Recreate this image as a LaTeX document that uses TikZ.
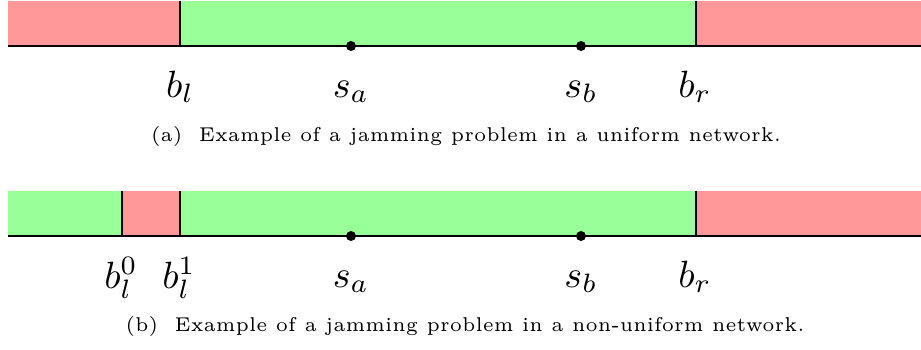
\documentclass[tikz,border=0pt]{standalone}
\usepackage{graphicx}
\newcommand{\biglab}[1]{\scalebox{3.8}{$#1$}}
\newcommand{\captxt}[1]{\scalebox{3.6}[4.0]{\tiny #1}}
\begin{document}
\begin{tikzpicture}[x=1pt,y=-1pt,
  redz/.style={fill=red!40},
  greenz/.style={fill=green!40},
  axis/.style={line width=1.6pt},
  wall/.style={line width=1.4pt},
  dot/.style={circle,fill=black,inner sep=0pt,minimum size=10pt},
  lab/.style={anchor=base,inner sep=0pt},
  captext/.style={anchor=base,inner sep=0pt}]
\useasboundingbox (0,0) rectangle (921,349);
% top
\fill[redz] (8,1) rectangle (180,46);
\fill[greenz] (180,1) rectangle (696,46);
\fill[redz] (696,1) rectangle (921,46);
\coordinate (tl) at (8,46);
\coordinate (tr) at (921,46);
\draw[axis] (tl) -- (tr);
\coordinate (bl1) at (180,1); \coordinate (bl2) at (180,46);
\coordinate (br1) at (696,1); \coordinate (br2) at (696,46);
\draw[wall] (bl1) -- (bl2);
\draw[wall] (br1) -- (br2);
\node[dot] (sa) at (351,46) {};
\node[dot] (sb) at (581,46) {};
\node[lab] (lbl) at (180,97) {\biglab{b_l}};
\node[lab] (lsa) at (351,97) {\biglab{s_a}};
\node[lab] (lsb) at (581,97) {\biglab{s_b}};
\node[lab] (lbr) at (695,97) {\biglab{b_r}};
\node[captext] (capa) at (466,141) {\captxt{(a)\hspace{0.9em}Example of a jamming problem in a uniform network.}};
% bottom
\fill[greenz] (8,191) rectangle (122,236);
\fill[redz] (122,191) rectangle (180,236);
\fill[greenz] (180,191) rectangle (696,236);
\fill[redz] (696,191) rectangle (921,236);
\coordinate (btl) at (8,236);
\coordinate (btr) at (921,236);
\draw[axis] (btl) -- (btr);
\coordinate (b01) at (122,191); \coordinate (b02) at (122,236);
\coordinate (b11) at (180,191); \coordinate (b12) at (180,236);
\coordinate (bbr1) at (696,191); \coordinate (bbr2) at (696,236);
\draw[wall] (b01) -- (b02);
\draw[wall] (b11) -- (b12);
\draw[wall] (bbr1) -- (bbr2);
\node[dot] (sa2) at (351,236) {};
\node[dot] (sb2) at (581,236) {};
\node[lab] (lb0) at (121,288) {\biglab{b_l^0}};
\node[lab] (lb1) at (179,288) {\biglab{b_l^1}};
\node[lab] (lsa2) at (351,287) {\biglab{s_a}};
\node[lab] (lsb2) at (581,287) {\biglab{s_b}};
\node[lab] (lbr2) at (695,287) {\biglab{b_r}};
\node[captext] (capb) at (465,331) {\captxt{(b)\hspace{0.9em}Example of a jamming problem in a non-uniform network.}};
\end{tikzpicture}
\end{document}
